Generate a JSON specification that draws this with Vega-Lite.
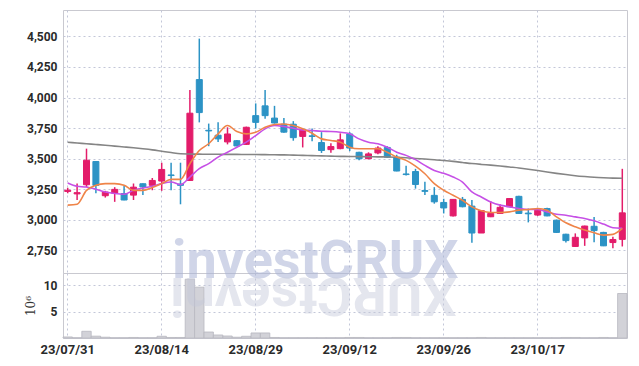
{
  "$schema": "https://vega.github.io/schema/vega-lite/v6.json",
  "padding": {"left": 23, "top": 9, "right": 9, "bottom": 0},
  "spacing": 0,
  "bounds": "flush",
  "config": {
    "view": {"stroke": "#c9c9d0"},
    "axis": {"labelFont": "Roboto", "labelFontSize": 12, "labelFontWeight": "bold", "labelColor": "#2a2a2a", "gridColor": "#c3c7d8", "gridDash": [2, 3], "ticks": false, "domain": false, "labelPadding": 6, "title": null}
  },
  "datasets": {
    "p": [
      {"d":"23/07/31","o":3232,"h":3262,"l":3217,"c":3242,"m5":3120,"m20":3301,"m60":3634,"v":0.2},
      {"d":"23/08/01","o":3212,"h":3297,"l":3162,"c":3222,"m5":3128,"m20":3274,"m60":3628,"v":0.05},
      {"d":"23/08/02","o":3287,"h":3582,"l":3267,"c":3487,"m5":3241,"m20":3268,"m60":3622,"v":1.27},
      {"d":"23/08/03","o":3477,"h":3480,"l":3217,"c":3282,"m5":3282,"m20":3250,"m60":3616,"v":0.35},
      {"d":"23/08/04","o":3197,"h":3237,"l":3182,"c":3227,"m5":3296,"m20":3228,"m60":3610,"v":0.15},
      {"d":"23/08/07","o":3217,"h":3267,"l":3147,"c":3249,"m5":3296,"m20":3215,"m60":3603,"v":0.05},
      {"d":"23/08/08","o":3215,"h":3277,"l":3160,"c":3162,"m5":3282,"m20":3209,"m60":3596,"v":0.05},
      {"d":"23/08/09","o":3202,"h":3297,"l":3162,"c":3267,"m5":3241,"m20":3241,"m60":3589,"v":0.1},
      {"d":"23/08/10","o":3295,"h":3297,"l":3202,"c":3269,"m5":3241,"m20":3260,"m60":3581,"v":0.05},
      {"d":"23/08/11","o":3282,"h":3342,"l":3242,"c":3322,"m5":3264,"m20":3274,"m60":3572,"v":0.05},
      {"d":"23/08/14","o":3317,"h":3467,"l":3237,"c":3412,"m5":3296,"m20":3296,"m60":3561,"v":0.33},
      {"d":"23/08/16","o":3367,"h":3467,"l":3242,"c":3362,"m5":3331,"m20":3309,"m60":3550,"v":0.1},
      {"d":"23/08/17","o":3292,"h":3467,"l":3127,"c":3282,"m5":3331,"m20":3288,"m60":3540,"v":0.1},
      {"d":"23/08/18","o":3322,"h":4062,"l":3317,"c":3872,"m5":3459,"m20":3350,"m60":3538,"v":11.1},
      {"d":"23/08/21","o":4147,"h":4482,"l":3797,"c":3877,"m5":3567,"m20":3418,"m60":3537,"v":9.6},
      {"d":"23/08/22","o":3732,"h":3787,"l":3602,"c":3727,"m5":3622,"m20":3459,"m60":3536,"v":1.13},
      {"d":"23/08/23","o":3692,"h":3797,"l":3637,"c":3662,"m5":3703,"m20":3513,"m60":3536,"v":0.57},
      {"d":"23/08/24","o":3637,"h":3757,"l":3617,"c":3702,"m5":3771,"m20":3553,"m60":3535,"v":0.38},
      {"d":"23/08/25","o":3647,"h":3652,"l":3602,"c":3604,"m5":3722,"m20":3594,"m60":3535,"v":0.15},
      {"d":"23/08/28","o":3617,"h":3762,"l":3612,"c":3757,"m5":3703,"m20":3635,"m60":3534,"v":0.33},
      {"d":"23/08/29","o":3852,"h":3952,"l":3747,"c":3797,"m5":3716,"m20":3689,"m60":3534,"v":0.95},
      {"d":"23/08/30","o":3932,"h":4062,"l":3827,"c":3852,"m5":3757,"m20":3744,"m60":3533,"v":0.95},
      {"d":"23/08/31","o":3832,"h":3932,"l":3787,"c":3792,"m5":3779,"m20":3771,"m60":3532,"v":0.1},
      {"d":"23/09/01","o":3782,"h":3832,"l":3712,"c":3717,"m5":3784,"m20":3763,"m60":3531,"v":0.05},
      {"d":"23/09/04","o":3782,"h":3807,"l":3647,"c":3672,"m5":3771,"m20":3749,"m60":3529,"v":0.05},
      {"d":"23/09/05","o":3682,"h":3747,"l":3592,"c":3737,"m5":3744,"m20":3735,"m60":3527,"v":0.05},
      {"d":"23/09/06","o":3687,"h":3747,"l":3642,"c":3682,"m5":3708,"m20":3730,"m60":3525,"v":0.05},
      {"d":"23/09/07","o":3632,"h":3717,"l":3547,"c":3567,"m5":3662,"m20":3724,"m60":3523,"v":0.05},
      {"d":"23/09/08","o":3574,"h":3627,"l":3549,"c":3599,"m5":3649,"m20":3722,"m60":3521,"v":0.05},
      {"d":"23/09/11","o":3582,"h":3707,"l":3577,"c":3654,"m5":3635,"m20":3716,"m60":3519,"v":0.05},
      {"d":"23/09/12","o":3702,"h":3717,"l":3562,"c":3587,"m5":3594,"m20":3703,"m60":3518,"v":0.1},
      {"d":"23/09/13","o":3552,"h":3557,"l":3487,"c":3499,"m5":3581,"m20":3662,"m60":3517,"v":0.1},
      {"d":"23/09/14","o":3500,"h":3552,"l":3495,"c":3539,"m5":3581,"m20":3635,"m60":3516,"v":0.05},
      {"d":"23/09/15","o":3547,"h":3602,"l":3537,"c":3587,"m5":3581,"m20":3622,"m60":3515,"v":0.05},
      {"d":"23/09/18","o":3592,"h":3602,"l":3507,"c":3512,"m5":3553,"m20":3594,"m60":3514,"v":0.05},
      {"d":"23/09/19","o":3512,"h":3532,"l":3397,"c":3399,"m5":3513,"m20":3553,"m60":3512,"v":0.1},
      {"d":"23/09/20","o":3375,"h":3442,"l":3362,"c":3370,"m5":3486,"m20":3527,"m60":3508,"v":0.1},
      {"d":"23/09/21","o":3395,"h":3417,"l":3255,"c":3289,"m5":3439,"m20":3492,"m60":3502,"v":0.05},
      {"d":"23/09/22","o":3239,"h":3312,"l":3202,"c":3233,"m5":3377,"m20":3445,"m60":3497,"v":0.05},
      {"d":"23/09/25","o":3200,"h":3267,"l":3132,"c":3147,"m5":3296,"m20":3404,"m60":3491,"v":0.05},
      {"d":"23/09/26","o":3142,"h":3172,"l":3052,"c":3097,"m5":3242,"m20":3380,"m60":3485,"v":0.05},
      {"d":"23/09/27","o":3032,"h":3167,"l":3027,"c":3167,"m5":3201,"m20":3350,"m60":3478,"v":0.05},
      {"d":"23/10/04","o":3167,"h":3187,"l":3102,"c":3107,"m5":3160,"m20":3309,"m60":3469,"v":0.05},
      {"d":"23/10/05","o":3112,"h":3162,"l":2812,"c":2892,"m5":3106,"m20":3228,"m60":3460,"v":0.05},
      {"d":"23/10/06","o":2892,"h":3077,"l":2892,"c":3075,"m5":3074,"m20":3187,"m60":3453,"v":0.1},
      {"d":"23/10/10","o":3025,"h":3152,"l":3022,"c":3052,"m5":3060,"m20":3146,"m60":3447,"v":0.05},
      {"d":"23/10/11","o":3052,"h":3127,"l":3047,"c":3102,"m5":3060,"m20":3120,"m60":3440,"v":0.05},
      {"d":"23/10/12","o":3107,"h":3177,"l":3105,"c":3174,"m5":3065,"m20":3106,"m60":3432,"v":0.05},
      {"d":"23/10/13","o":3192,"h":3197,"l":3049,"c":3052,"m5":3079,"m20":3093,"m60":3424,"v":0.05},
      {"d":"23/10/16","o":3055,"h":3092,"l":2979,"c":3049,"m5":3084,"m20":3084,"m60":3414,"v":0.05},
      {"d":"23/10/17","o":3039,"h":3097,"l":3032,"c":3079,"m5":3093,"m20":3084,"m60":3403,"v":0.05},
      {"d":"23/10/18","o":3092,"h":3099,"l":3030,"c":3032,"m5":3079,"m20":3065,"m60":3391,"v":0.05},
      {"d":"23/10/19","o":2997,"h":3002,"l":2892,"c":2897,"m5":3024,"m20":3046,"m60":3380,"v":0.05},
      {"d":"23/10/20","o":2882,"h":2887,"l":2815,"c":2830,"m5":2976,"m20":3038,"m60":3370,"v":0.1},
      {"d":"23/10/23","o":2782,"h":2889,"l":2779,"c":2857,"m5":2943,"m20":3024,"m60":3361,"v":0.1},
      {"d":"23/10/24","o":2852,"h":2952,"l":2787,"c":2949,"m5":2916,"m20":3011,"m60":3354,"v":0.05},
      {"d":"23/10/25","o":2947,"h":3024,"l":2817,"c":2912,"m5":2894,"m20":2992,"m60":3348,"v":0.05},
      {"d":"23/10/26","o":2897,"h":2902,"l":2785,"c":2787,"m5":2875,"m20":2965,"m60":3344,"v":0.1},
      {"d":"23/10/27","o":2814,"h":2862,"l":2767,"c":2839,"m5":2881,"m20":2935,"m60":3341,"v":0.05},
      {"d":"23/10/30","o":2840,"h":3417,"l":2782,"c":3057,"m5":2930,"m20":2930,"m60":3340,"v":8.4}
    ]
  },
  "vconcat": [
    {
      "width": 564,
      "height": 263,
      "data": {"name": "p"},
      "encoding": {
        "x": {"field": "d", "type": "ordinal", "sort": null,
          "scale": {"paddingInner": 0, "paddingOuter": 0},
          "axis": {"values": ["23/07/31","23/08/14","23/08/29","23/09/12","23/09/26","23/10/17"], "labels": false, "grid": true, "bandPosition": 0.5}}
      },
      "layer": [
        {
          "mark": {"type": "rule", "strokeWidth": 1.5},
          "encoding": {
            "y": {"field": "l", "type": "quantitative", "scale": {"domain": [2565, 4716], "zero": false, "nice": false},
              "axis": {"values": [2750, 3000, 3250, 3500, 3750, 4000, 4250, 4500], "labelExpr": "format(datum.value, ',')", "labelOverlap": false, "grid": true}},
            "y2": {"field": "h"},
            "color": {"condition": {"test": "datum.c >= datum.o", "value": "#e31c6a"}, "value": "#2c93c5"}
          }
        },
        {
          "mark": {"type": "bar", "size": 6, "strokeWidth": 1},
          "encoding": {
            "y": {"field": "o", "type": "quantitative",
              "axis": {"values": [2750, 3000, 3250, 3500, 3750, 4000, 4250, 4500], "labelExpr": "format(datum.value, ',')", "labelOverlap": false, "grid": true}},
            "y2": {"field": "c"},
            "color": {"condition": {"test": "datum.c >= datum.o", "value": "#e31c6a"}, "value": "#2c93c5"},
            "stroke": {"condition": {"test": "datum.c >= datum.o", "value": "#e31c6a"}, "value": "#2c93c5"}
          }
        },
        {
          "mark": {"type": "line", "color": "#858585", "strokeWidth": 1.6, "interpolate": "monotone"},
          "encoding": {"y": {"field": "m60", "type": "quantitative",
              "axis": {"values": [2750, 3000, 3250, 3500, 3750, 4000, 4250, 4500], "labelExpr": "format(datum.value, ',')", "labelOverlap": false, "grid": true}}}
        },
        {
          "mark": {"type": "line", "color": "#c650e6", "strokeWidth": 1.6, "interpolate": "monotone"},
          "encoding": {"y": {"field": "m20", "type": "quantitative",
              "axis": {"values": [2750, 3000, 3250, 3500, 3750, 4000, 4250, 4500], "labelExpr": "format(datum.value, ',')", "labelOverlap": false, "grid": true}}}
        },
        {
          "mark": {"type": "line", "color": "#ef8448", "strokeWidth": 1.6, "interpolate": "monotone"},
          "encoding": {"y": {"field": "m5", "type": "quantitative",
              "axis": {"values": [2750, 3000, 3250, 3500, 3750, 4000, 4250, 4500], "labelExpr": "format(datum.value, ',')", "labelOverlap": false, "grid": true}}}
        }
      ]
    },
    {
      "width": 564,
      "height": 65,
      "layer": [
        {
          "data": {"name": "p"},
          "mark": {"type": "bar", "color": "#d2d2d8", "stroke": "#b8b8c0", "strokeWidth": 0.8},
          "encoding": {
            "x": {"field": "d", "type": "ordinal", "sort": null,
              "scale": {"paddingInner": 0, "paddingOuter": 0},
              "axis": {"values": ["23/07/31","23/08/14","23/08/29","23/09/12","23/09/26","23/10/17"], "labelAngle": 0, "labelPadding": 5, "labelFontSize": 13, "grid": true, "bandPosition": 0.5}},
            "y": {"field": "v", "type": "quantitative", "scale": {"domain": [0, 12.27], "nice": false},
              "axis": {"values": [5, 10], "grid": true, "title": "10⁶", "titleFont": "DejaVu Serif", "titleFontWeight": "normal", "titleFontSize": 12, "titleColor": "#333333", "titlePadding": 6}}
          }
        },
        {
          "data": {"values": [{"t": "investCRUX"}]},
          "mark": {"type": "text", "font": "Roboto", "fontWeight": "bold", "fontSize": 54, "align": "left", "baseline": "alphabetic", "color": "#aab4d6", "opacity": 0.55, "dx": 1},
          "encoding": {
            "x": {"datum": "23/08/16", "type": "ordinal"},
            "y": {"datum": 11.33, "type": "quantitative"},
            "text": {"field": "t"}
          }
        },
        {
          "data": {"values": [{"t": "investCRUX"}]},
          "mark": {"type": "text", "font": "Roboto", "fontWeight": "bold", "fontSize": 54, "align": "right", "baseline": "alphabetic", "angle": 180, "color": "#c4c8da", "opacity": 0.45, "dx": 1},
          "encoding": {
            "x": {"datum": "23/08/16", "type": "ordinal"},
            "y": {"datum": 11.33, "type": "quantitative"},
            "text": {"value": "XURCtsevni"}
          }
        }
      ]
    }
  ]
}
